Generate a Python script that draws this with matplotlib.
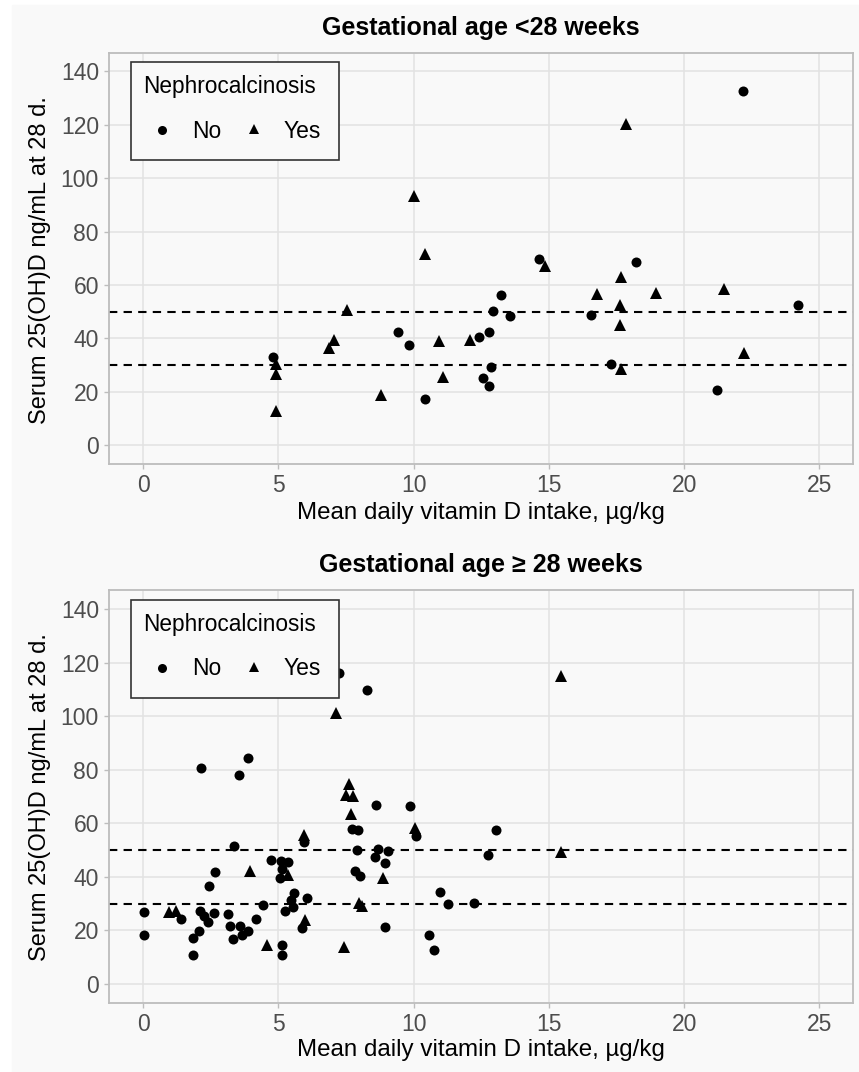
import numpy as np
import matplotlib
matplotlib.use('Agg')
import matplotlib.pyplot as plt
from matplotlib.patches import Rectangle

plt.rcParams['font.family']=['Liberation Sans','DejaVu Sans']

# GA < 28 weeks
lt28_no_x=[4.81,9.42,9.82,10.41,12.43,12.80,12.92,13.21,13.56,12.85,12.57,12.80,14.65,16.57,17.29,18.21,21.23,22.16,24.19]
lt28_no_y=[33.0,42.6,37.4,17.2,40.5,42.4,50.2,56.1,48.6,29.3,25.2,22.2,69.7,48.9,30.5,68.8,20.6,132.5,52.6]
lt28_yes_x=[4.90,4.90,4.90,6.87,7.07,7.55,8.81,10.00,10.41,10.93,11.10,12.10,14.85,16.76,17.65,17.61,17.61,17.65,17.85,18.97,21.48,22.20]
lt28_yes_y=[30.5,26.8,12.7,36.4,39.5,50.7,18.7,93.2,71.7,38.9,25.6,39.6,67.1,56.7,28.7,44.9,52.6,62.9,120.3,57.0,58.6,34.7]

# GA >= 28 weeks
ge28_no_x=[0.04,0.04,1.39,1.86,1.86,2.07,2.15,2.09,2.25,2.38,2.44,2.65,2.62,3.15,3.21,3.32,3.35,3.55,3.88,3.57,
           3.67,3.89,4.18,4.43,4.71,5.08,5.37,5.14,5.05,5.24,5.14,5.14,5.58,5.48,5.55,6.07,5.86,5.95,7.25,8.26,
           7.73,7.95,7.91,7.85,8.00,8.62,8.69,9.06,8.57,8.94,8.94,9.85,10.09,10.98,11.27,10.55,10.77,12.22,12.75,13.06]
ge28_no_y=[26.7,18.2,24.2,10.9,17.1,19.6,80.5,27.1,25.2,23.3,36.4,41.7,26.5,26.1,21.5,16.7,51.4,78.2,84.3,21.7,
           18.4,19.6,24.2,29.6,46.2,45.8,45.4,43.0,39.6,27.3,14.6,10.9,34.0,31.5,28.7,32.1,20.9,52.9,116.0,109.7,
           57.9,57.4,50.2,42.1,40.4,66.8,50.4,49.6,47.5,45.2,21.1,66.4,55.2,34.5,30.0,18.2,12.5,30.2,48.1,57.4]
ge28_yes_x=[0.96,1.21,3.94,4.59,5.37,5.95,5.98,7.14,7.61,7.49,7.75,7.67,7.42,7.98,8.10,8.86,10.04,15.45,15.45]
ge28_yes_y=[26.7,27.1,42.1,14.6,40.8,55.8,24.0,101.0,74.5,70.4,70.2,63.3,13.7,30.4,29.2,39.6,58.3,115.0,49.4]

ref_lines=[30,50]
x_ticks=[0,5,10,15,20,25]
y_ticks=[0,20,40,60,80,100,120,140]
titles=['Gestational age <28 weeks','Gestational age \u2265 28 weeks']
legend_title='Nephrocalcinosis'
legend_labels=['No','Yes']

W,H=859,1072
bg='#f9f9f9'
grid_c='#e2e2e2'
border_c='#bdbdbd'

def fx(x):
    return x/W

def fy(y):
    return 1-y/H

def px_box(x0,y0,x1,y1):
    return [x0/W,1-y1/H,(x1-x0)/W,(y1-y0)/H]

def draw_legend(fig,top):
    # legend drawn in figure pixels, top = y of box top
    fig.patches.append(Rectangle((fx(130.7),fy(top+98)),(338.7-130.7)/W,98/H,transform=fig.transFigure,
                                 facecolor=bg,edgecolor='#333333',lw=1.2,zorder=5))
    fig.text(fx(143),fy(top+25),legend_title,ha='left',va='center',fontsize=16.3,zorder=6)
    fig.lines.append(plt.Line2D([fx(162)],[fy(top+68)],marker='o',color='black',ms=6.5,mew=0,ls='',
                                transform=fig.transFigure,zorder=6))
    fig.text(fx(192),fy(top+69),legend_labels[0],ha='left',va='center',fontsize=16.5,zorder=6)
    fig.lines.append(plt.Line2D([fx(254)],[fy(top+67)],marker='^',color='black',ms=7.5,mew=0,ls='',
                                transform=fig.transFigure,zorder=6))
    fig.text(fx(284),fy(top+69),legend_labels[1],ha='left',va='center',fontsize=16.5,zorder=6)

def draw_panel(ax,nx,ny,yx,yy):
    ax.set_facecolor(bg)
    ax.set_xlim(-1.25,26.25)
    ax.set_ylim(-7,147)
    ax.set_xticks(x_ticks)
    ax.set_yticks(y_ticks)
    ax.grid(True,color=grid_c,lw=1.1)
    ax.set_axisbelow(True)
    for s in ax.spines.values():
        s.set_color(border_c)
        s.set_linewidth(1.3)
    ax.tick_params(length=3.5,width=1,color=border_c,labelsize=16.5,labelcolor='#4d4d4d',pad=4)
    for r in ref_lines:
        ax.axhline(r,color='black',lw=1.5,linestyle=(0,(4,3)),zorder=2)
    ax.plot(nx,ny,'o',color='black',ms=7.2,mew=0,zorder=3)
    ax.plot(yx,yy,'^',color='black',ms=8.6,mew=0,zorder=3)

fig=plt.figure(figsize=(W/100,H/100),dpi=100)
fig.patch.set_facecolor('white')
fig.patches.append(Rectangle((12/W,0),1,1-5/H,transform=fig.transFigure,color=bg,zorder=-5))

ax1=fig.add_axes(px_box(109.3,52.7,853.3,464))
ax2=fig.add_axes(px_box(109.3,590.3,853.3,1002.7))
draw_panel(ax1,lt28_no_x,lt28_no_y,lt28_yes_x,lt28_yes_y)
draw_panel(ax2,ge28_no_x,ge28_no_y,ge28_yes_x,ge28_yes_y)
draw_legend(fig,62)
draw_legend(fig,599.6)

xc=(109.3+853.3)/2/W
fig.text(xc,fy(28),titles[0],ha='center',va='center',fontsize=18,fontweight='bold')
fig.text(xc,fy(565),titles[1],ha='center',va='center',fontsize=18,fontweight='bold')
fig.text(xc,fy(513),'Mean daily vitamin D intake, \u00b5g/kg',ha='center',va='center',fontsize=17.4)
fig.text(xc,fy(1050),'Mean daily vitamin D intake, \u00b5g/kg',ha='center',va='center',fontsize=17.4)
fig.text(fx(40),fy(260),'Serum 25(OH)D ng/mL at 28 d.',ha='center',va='center',rotation=90,fontsize=17)
fig.text(fx(40),fy(797),'Serum 25(OH)D ng/mL at 28 d.',ha='center',va='center',rotation=90,fontsize=17)

fig.savefig('out.png',dpi=100,facecolor=fig.get_facecolor())
